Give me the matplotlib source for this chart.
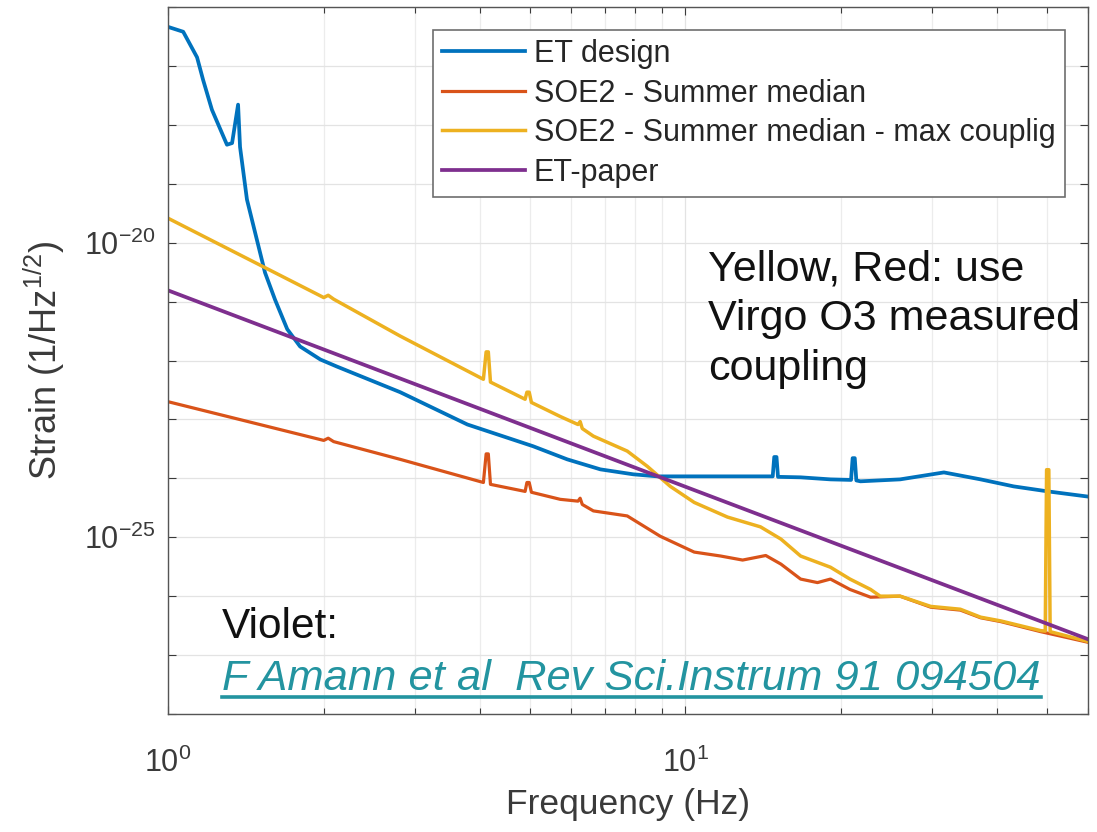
import matplotlib
matplotlib.use('Agg')
import matplotlib.pyplot as plt
from matplotlib.lines import Line2D

plt.rcParams['font.family'] = ['Liberation Sans', 'DejaVu Sans']
plt.rcParams['mathtext.default'] = 'regular'

# ET design sensitivity
et_f = [1.00, 1.07, 1.138, 1.169, 1.216, 1.30, 1.33, 1.366, 1.378, 1.421, 1.486,
        1.54, 1.61, 1.70, 1.80, 1.97, 2.12, 2.81, 3.79, 5.08, 5.91, 6.85, 7.93,
        8.83, 13.97, 14.75, 14.85, 15.0, 15.1, 16.7, 19.07, 20.9, 21.05, 21.25,
        21.4, 21.8, 26.0, 31.6, 37.2, 43.1, 50.2, 60.0]
et_h = [4.6e-17, 3.8e-17, 1.4e-17, 5.8e-18, 1.8e-18, 4.6e-19, 4.9e-19, 2.2e-18,
        4.2e-19, 5.4e-20, 1.1e-20, 3.1e-21, 1.08e-21, 3.4e-22, 1.73e-22, 1.04e-22,
        7.9e-23, 2.9e-23, 8.2e-24, 3.5e-24, 2.1e-24, 1.42e-24, 1.17e-24, 1.08e-24,
        1.08e-24, 1.08e-24, 2.3e-24, 2.3e-24, 1.06e-24, 1.04e-24, 9.6e-25, 9.4e-25,
        2.2e-24, 2.2e-24, 9.2e-25, 8.9e-25, 9.6e-25, 1.26e-24, 9.6e-25, 7.3e-25,
        6.0e-25, 4.9e-25]

# SOE2 - summer median
red_f = [1.00, 2.00, 2.04, 2.09, 2.81, 4.07, 4.12, 4.16, 4.20, 4.90, 4.94, 4.99,
         5.04, 5.73, 6.20, 6.26, 6.32, 6.64, 7.72, 8.94, 10.4, 11.7, 12.9, 14.3,
         15.3, 16.7, 18.0, 19.07, 20.8, 22.8, 26.0, 29.8, 34.0, 37.2, 40.7, 48.6,
         60.0]
red_h = [2.0e-23, 4.4e-24, 4.8e-24, 4.2e-24, 2.1e-24, 8.5e-25, 2.6e-24, 2.6e-24,
         7.9e-25, 6.0e-25, 8.5e-25, 8.5e-25, 5.8e-25, 4.4e-25, 4.1e-25, 4.6e-25,
         3.6e-25, 2.8e-25, 2.3e-25, 1.04e-25, 5.6e-26, 4.8e-26, 4.1e-26, 4.9e-26,
         3.5e-26, 1.95e-26, 1.7e-26, 1.95e-26, 1.3e-26, 9.6e-27, 1.0e-26, 6.5e-27,
         5.8e-27, 4.3e-27, 3.7e-27, 2.5e-27, 1.65e-27]

# SOE2 - summer median - max coupling
yel_f = [1.00, 2.00, 2.04, 2.09, 2.81, 4.07, 4.12, 4.16, 4.20, 4.90, 4.94, 4.99,
         5.04, 5.73, 6.20, 6.26, 6.32, 6.64, 7.72, 8.44, 9.35, 10.4, 12.06, 13.97,
         15.3, 16.7, 19.07, 20.8, 22.8, 23.8, 26.0, 29.8, 34.0, 37.2, 40.7, 48.6,
         49.6, 49.9, 50.4, 50.7, 60.0]
yel_h = [2.6e-20, 1.17e-21, 1.28e-21, 1.1e-21, 2.6e-22, 4.8e-23, 1.4e-22, 1.4e-22,
         4.3e-23, 2.2e-23, 2.9e-23, 2.9e-23, 1.94e-23, 1.12e-23, 8.2e-24, 9.2e-24,
         7.0e-24, 5.2e-24, 2.9e-24, 1.6e-24, 7.3e-25, 3.9e-25, 2.2e-25, 1.5e-25,
         9.3e-26, 4.8e-26, 3.1e-26, 1.95e-26, 1.3e-26, 1.0e-26, 1.0e-26, 6.7e-27,
         6.0e-27, 4.4e-27, 3.8e-27, 2.6e-27, 2.55e-27, 1.4e-24, 1.4e-24, 2.5e-27,
         1.7e-27]

# ET-paper
vio_f = [1.0, 10.0, 60.0]
vio_h = [1.55e-21, 7.2e-25, 1.86e-27]

x_major = [1, 10]
x_major_labels = ['$10^{0}$', '$10^{1}$']
x_minor = [2, 3, 4, 5, 6, 7, 8, 9, 20, 30, 40, 50, 60]
y_exps = list(range(-28, -15))
y_labelled = [-25, -20]

fig = plt.figure(figsize=(10.97, 8.32), dpi=100)
ax = fig.add_axes([168 / 1097, 1 - 714 / 832, 920 / 1097, 707 / 832])

ax.loglog(et_f, et_h, color='#0072BD', lw=2.7, label='ET design')
ax.loglog(red_f, red_h, color='#D95319', lw=2.3, label='SOE2 - Summer median')
ax.loglog(yel_f, yel_h, color='#EDB120', lw=2.5, label='SOE2 - Summer median - max couplig')
ax.loglog(vio_f, vio_h, color='#7E2F8E', lw=2.7, label='ET-paper')

ax.set_xlim(1, 60)
ax.set_ylim(1e-28, 1e-16)

ax.set_xticks(x_major)
ax.set_xticklabels(x_major_labels)
ax.set_xticks(x_minor, minor=True)
ax.set_xticklabels([], minor=True)
ax.set_yticks([10.0 ** e for e in y_exps])
ax.set_yticklabels(['$10^{%d}$' % e if e in y_labelled else '' for e in y_exps])
ax.set_yticks([], minor=True)

ax.tick_params(which='both', direction='in', top=True, right=True,
               colors='#3a3a3a', labelsize=22, length=6, width=0.8)
ax.tick_params(axis='x', which='major', pad=24)
ax.tick_params(axis='y', which='major', pad=9)
ax.tick_params(which='minor', length=4)

ax.set_axisbelow(True)
ax.grid(True, which='major', color='#e3e3e3', lw=0.9)
ax.grid(True, which='minor', axis='x', color='#ececec', lw=0.9)
for sp in ax.spines.values():
    sp.set_color('#555555')
    sp.set_linewidth(1.0)

ax.set_xlabel('Frequency (Hz)', fontsize=25.5, color='#3a3a3a')
ax.xaxis.set_label_coords(0.5, -0.105)
ax.set_ylabel('Strain (1/Hz$^{1/2}$)', fontsize=26, color='#3a3a3a')
ax.yaxis.set_label_coords(-0.11, 0.5)

leg = ax.legend(loc='upper left', bbox_to_anchor=(433 / 1097, 1 - 30 / 832),
                bbox_transform=fig.transFigure, fontsize=22, handlelength=2.7,
                handletextpad=0.3, labelspacing=0.31, borderpad=0.3,
                borderaxespad=0, fancybox=False, framealpha=1, edgecolor='#6e6e6e')
leg.get_frame().set_linewidth(1.2)
for t in leg.get_texts():
    t.set_color('#262626')

fig.text(708 / 1097, 1 - 380 / 832, 'Yellow, Red: use\nVirgo O3 measured\ncoupling',
         fontsize=31, va='baseline', ha='left', linespacing=1.32, color='#111111')
fig.text(222 / 1097, 1 - 638 / 832, 'Violet:', fontsize=30.5, va='baseline',
         ha='left', color='#111111')
link = fig.text(222 / 1097, 1 - 690 / 832, 'F Amann et al  Rev Sci.Instrum 91 094504',
                fontsize=31.3, style='italic', va='baseline', ha='left', color='#2394a0')

renderer = fig.canvas.get_renderer()
bb = link.get_window_extent(renderer)
y_ul = 1 - 697 / 832
fig.add_artist(Line2D([bb.x0 / 1097, bb.x1 / 1097], [y_ul, y_ul],
                      transform=fig.transFigure, color='#2394a0', lw=2.6))

fig.savefig('out.png', dpi=100)
